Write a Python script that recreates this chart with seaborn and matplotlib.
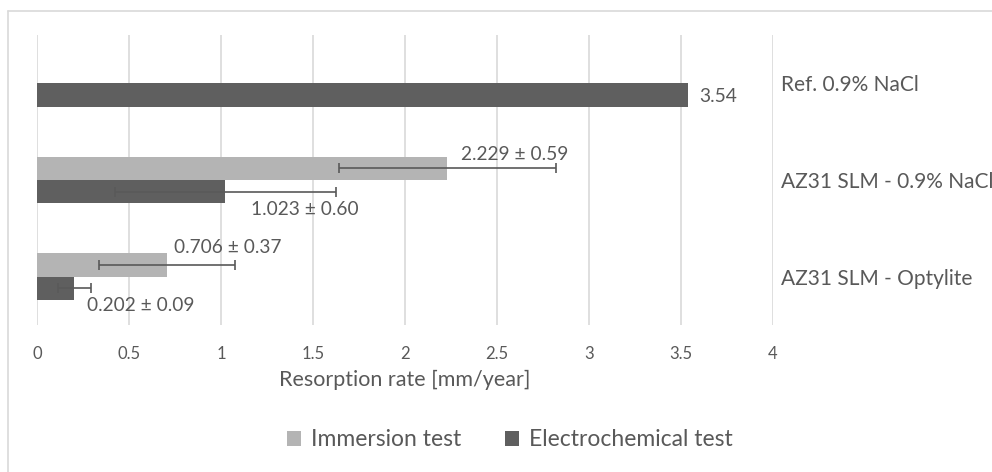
import numpy as np
import pandas as pd
import matplotlib.pyplot as plt
from matplotlib.lines import Line2D
import seaborn as sns

# data
categories = ["Ref. 0.9% NaCl", "AZ31 SLM - 0.9% NaCl", "AZ31 SLM - Optylite"]
tests = ["Immersion test", "Electrochemical test"]
immersion = [np.nan, 2.229, 0.706]
immersion_err = [np.nan, 0.59, 0.37]
electro = [3.54, 1.023, 0.202]
electro_err = [np.nan, 0.60, 0.09]
x_ticks = [0, 0.5, 1, 1.5, 2, 2.5, 3, 3.5, 4]

colors = {"Immersion test": "#b4b4b4", "Electrochemical test": "#5f5f5f"}
txt = "#595959"

df = pd.DataFrame({
    "category": categories * 2,
    "test": [tests[0]] * 3 + [tests[1]] * 3,
    "value": immersion + electro,
    "err": immersion_err + electro_err,
})

sns.set_theme(style="white")
plt.rcParams["font.family"] = ["Lato", "DejaVu Sans"]

fig = plt.figure(figsize=(9.92, 4.72), dpi=100)
ax = fig.add_axes([0.0373, 0.3114, 0.7419, 0.6144])

sns.barplot(data=df, x="value", y="category", hue="test", order=categories,
            hue_order=tests, palette=colors, orient="h", width=0.48,
            errorbar=None, linewidth=0, saturation=1, ax=ax)

# error bars at the centre of each bar (bars matched to category by position)
for cont, test in zip(ax.containers, tests):
    sub = df[df["test"] == test].set_index("category")
    for bar in cont:
        yc = bar.get_y() + bar.get_height() / 2
        cat = categories[int(round(yc))]
        v, e = sub.loc[cat, "value"], sub.loc[cat, "err"]
        if np.isnan(v) or np.isnan(e):
            continue
        ax.errorbar(v, yc, xerr=e, fmt="none", ecolor="#595959",
                    elinewidth=1.2, capsize=3.3, capthick=1.2, zorder=4)

# data labels (text centres in data coords)
label_pos = {
    ("Electrochemical test", 0): (3.60, 0.135, "left"),
    ("Immersion test", 1): (2.598, 0.74, "center"),
    ("Electrochemical test", 1): (1.457, 1.31, "center"),
    ("Immersion test", 2): (1.038, 1.70, "center"),
    ("Electrochemical test", 2): (0.565, 2.30, "center"),
}
for (test, i), (lx, ly, ha) in label_pos.items():
    row = df[(df["test"] == test) & (df["category"] == categories[i])].iloc[0]
    if np.isnan(row["err"]):
        s = f"{row['value']:.2f}"
    else:
        s = f"{row['value']:.3f} ± {row['err']:.2f}"
    ax.text(lx, ly, s, ha=ha, va="center", fontsize=13.8, color=txt, zorder=5)

ax.set_xlim(0, 4)
ax.set_ylim(2.5, -0.5)
ax.set_xticks(x_ticks)
ax.set_xticklabels([f"{t:g}" for t in x_ticks], fontsize=12, color=txt)
ax.tick_params(axis="x", length=0, pad=15)
ax.xaxis.grid(True, color="#d9d9d9", linewidth=1.2)
ax.set_axisbelow(True)
ax.yaxis.tick_right()
ax.tick_params(axis="y", length=0, pad=6, labelsize=15, labelcolor=txt)
ax.set_ylabel("")
ax.set_xlabel("Resorption rate [mm/year]", fontsize=15.5, color=txt)
ax.xaxis.set_label_coords(0.5, -0.155)
for sp in ax.spines.values():
    sp.set_visible(False)

sns.move_legend(ax, "center", bbox_to_anchor=(0.514, 0.068),
                bbox_transform=fig.transFigure, ncol=2, frameon=False,
                title=None, fontsize=16.5, handlelength=0.6, handleheight=0.6,
                handletextpad=0.45, columnspacing=1.9, labelcolor=txt)

# light chart border (top and left visible in the reference)
fig.add_artist(Line2D([8 / 992, 1], [1 - 11 / 472, 1 - 11 / 472],
                      transform=fig.transFigure, color="#d9d9d9", lw=1.2))
fig.add_artist(Line2D([8 / 992, 8 / 992], [0, 1 - 11 / 472],
                      transform=fig.transFigure, color="#d9d9d9", lw=1.2))

fig.savefig("out.png", dpi=100)
